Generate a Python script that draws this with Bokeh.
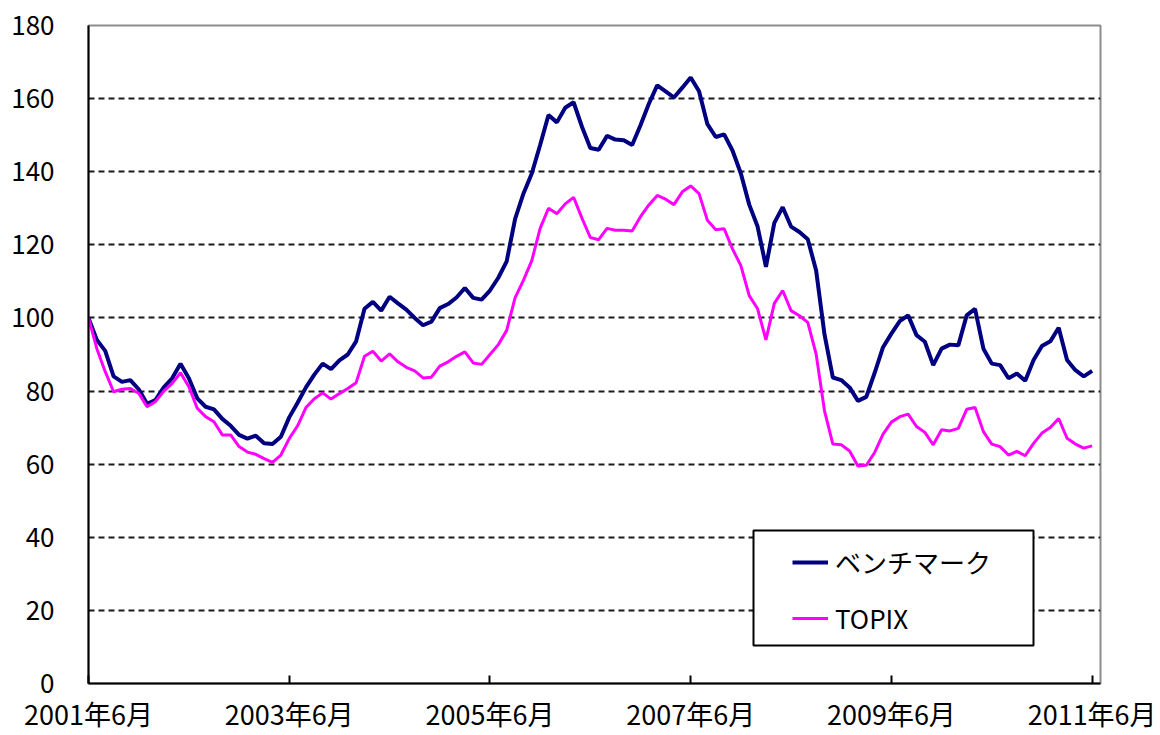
from bokeh.plotting import figure
from bokeh.models import FixedTicker, Legend, LegendItem, BoxAnnotation, ColumnDataSource
from bokeh.embed import file_html
from bokeh.resources import INLINE

# ---- data ----
tick_months = [0, 24, 48, 72, 96, 120]
tick_labels = ["2001年6月", "2003年6月", "2005年6月", "2007年6月", "2009年6月", "2011年6月"]
y_ticks = [0, 20, 40, 60, 80, 100, 120, 140, 160, 180]
series_names = ["ベンチマーク", "TOPIX"]

benchmark = [
    100, 94, 91, 84, 82.5, 83, 80.5, 76.5, 77.5, 81,
    83.5, 87.5, 83.5, 78, 75.7, 75, 72.4, 70.5, 68, 67,
    67.8, 65.7, 65.5, 67.5, 72.8, 76.8, 81, 84.5, 87.5, 86,
    88.4, 90, 93.6, 102.5, 104.4, 102, 105.8, 104, 102.3, 100,
    98, 99, 102.7, 103.8, 105.6, 108.2, 105.5, 105, 107.5, 111,
    115.5, 127, 134, 139.5, 147.3, 155.5, 153.5, 157.5, 159, 152.3,
    146.5, 146, 149.8, 148.8, 148.6, 147.3, 152.7, 158.6, 163.6, 162,
    160.3, 163, 165.8, 162, 153, 149.5, 150.2, 145.8, 139.5, 131,
    125, 114, 126, 130.3, 125, 123.5, 121.5, 113, 95.5, 83.7,
    83, 81, 77.3, 78.4, 85, 92, 95.7, 99.1, 100.7, 95.3,
    93.5, 87.1, 91.6, 92.7, 92.5, 100.7, 102.5, 91.6, 87.5, 87.1,
    83.5, 84.8, 82.8, 88.5, 92.3, 93.6, 97.3, 88.5, 85.7, 84,
    85.5,
]

topix = [
    100, 91.6, 85.3, 79.8, 80.5, 80.7, 79.4, 75.7, 77.1, 80,
    82.1, 85, 81.2, 75.3, 73, 71.6, 68, 68, 64.8, 63.3,
    62.7, 61.5, 60.5, 62.5, 67, 70.5, 75.5, 77.9, 79.5, 77.8,
    79.3, 80.7, 82.3, 89.5, 90.9, 88.2, 90.2, 88, 86.5, 85.5,
    83.6, 83.8, 86.8, 88, 89.5, 90.7, 87.7, 87.3, 90, 92.7,
    96.6, 105.5, 110.3, 115.7, 124.5, 130, 128.5, 131.2, 133, 127.3,
    122, 121.4, 124.5, 124, 124, 123.8, 127.7, 130.9, 133.5, 132.5,
    131, 134.5, 136.1, 134, 126.7, 124.1, 124.4, 118.9, 114.3, 106.1,
    102.5, 94, 104, 107.5, 102, 100.6, 98.8, 90.1, 74.6, 65.5,
    65.3, 63.6, 59.5, 59.7, 63.2, 68.2, 71.5, 73, 73.7, 70.3,
    68.7, 65.3, 69.4, 69.1, 69.8, 75, 75.5, 68.9, 65.5, 64.8,
    62.5, 63.5, 62.3, 65.7, 68.5, 70, 72.5, 67.1, 65.5, 64.4,
    65,
]

months = list(range(len(benchmark)))
src = ColumnDataSource(data=dict(m=months, bench=benchmark, topix=topix))

FONT = "Noto Sans CJK JP"

p = figure(width=1160, height=735, output_backend="svg", toolbar_location=None,
           x_range=(0, 121), y_range=(0, 180),
           min_border_left=88, min_border_right=60, min_border_top=25, min_border_bottom=52)
p.background_fill_color = "white"
p.border_fill_color = "white"
p.outline_line_color = "#8c8c8c"
p.outline_line_width = 2

r1 = p.line("m", "bench", source=src, line_color="#000080", line_width=4)
r2 = p.line("m", "topix", source=src, line_color="#ff00ff", line_width=3)

# axes
p.xaxis.ticker = FixedTicker(ticks=tick_months)
p.xaxis.major_label_overrides = {m: lab for m, lab in zip(tick_months, tick_labels)}
p.yaxis.ticker = FixedTicker(ticks=y_ticks)
for ax in (p.xaxis, p.yaxis):
    ax.axis_line_color = "black"
    ax.axis_line_width = 2
    ax.major_tick_line_color = "black"
    ax.major_tick_line_width = 2
    ax.minor_tick_line_color = None
    ax.major_label_text_font = FONT
    ax.major_label_text_font_size = "26px"
    ax.major_label_text_color = "black"
p.xaxis.major_label_text_font_size = "27px"
p.xaxis.major_tick_in = 8
p.xaxis.major_tick_out = 0
p.xaxis.major_label_standoff = 10
p.yaxis.major_tick_in = 0
p.yaxis.major_tick_out = 0
p.yaxis.major_label_standoff = 34

p.xgrid.grid_line_color = None
p.ygrid.grid_line_color = "#1a1a1a"
p.ygrid.grid_line_width = 2
p.ygrid.grid_line_dash = "6 4"

# legend box
box = BoxAnnotation(left=753, right=1033, top=530, bottom=645,
                    left_units="canvas", right_units="canvas",
                    top_units="canvas", bottom_units="canvas",
                    fill_color="white", fill_alpha=1.0,
                    line_color="black", line_alpha=1.0, line_width=2)
p.add_layout(box)

legend = Legend(items=[LegendItem(label=series_names[0], renderers=[r1]),
                       LegendItem(label=series_names[1], renderers=[r2])],
                location=(704, 47), padding=0, margin=0, spacing=19,
                glyph_width=36, glyph_height=30, label_height=30,
                label_standoff=7,
                label_text_font=FONT, label_text_font_size="26px",
                label_text_color="black",
                border_line_alpha=0, background_fill_alpha=0)
p.add_layout(legend)

open("out.html", "w").write(file_html(p, INLINE))
